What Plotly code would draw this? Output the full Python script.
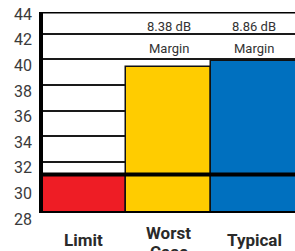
import plotly.graph_objects as go

categories = ["Limit", "Worst Case", "Typical"]
x_labels = [["Limit"], ["Worst", "Case"], ["Typical"]]
values = [31.0, 39.38, 39.86]
colors = ["#EE1D25", "#FFCC00", "#0070BF"]
y_ticks = [28, 30, 32, 34, 36, 38, 40, 42, 44]

limit = values[0]

# geometry (pixels)
W, H = 295, 251
M_T, M_B, M_L, M_R = 12, 32, 41, 0
PX_PER_UNIT = 12.8
LABEL_DROP = 6  # tick labels sit a few px below their gridline
paper_h = H - M_T - M_B
y_min = y_ticks[0]
y_top = y_min + (paper_h - LABEL_DROP) / PX_PER_UNIT
y2_top_frac = (y_ticks[-1] - y_min) * PX_PER_UNIT / paper_h

FONT_N = "Roboto, Liberation Sans, sans-serif"

fig = go.Figure()
fig.add_trace(go.Bar(
    x=categories, y=values,
    marker=dict(color=colors, line=dict(color="#111111", width=1.5)),
    width=1.0, hoverinfo="skip",
))
# invisible trace to carry the tick-label axis
fig.add_trace(go.Scatter(x=[0], y=[y_min], xaxis="x2", yaxis="y2", mode="markers",
                         marker=dict(opacity=0), hoverinfo="skip", showlegend=False))

# frame lines and the limit line across all columns
fig.add_shape(type="line", xref="x domain", yref="y", x0=0, x1=1, y0=limit, y1=limit,
              line=dict(color="#000000", width=4), layer="above")
fig.add_shape(type="line", xref="x domain", yref="y", x0=0, x1=1, y0=y_min, y1=y_min,
              line=dict(color="#000000", width=4), layer="above")
fig.add_shape(type="line", xref="x domain", yref="y", x0=0, x1=1, y0=y_top, y1=y_top,
              line=dict(color="#000000", width=3), layer="above")
fig.add_shape(type="line", xref="x domain", yref="y", x0=0, x1=0, y0=y_min, y1=y_top,
              line=dict(color="#000000", width=4), layer="above")

# margin annotations
for cat, v in zip(categories[1:], values[1:]):
    fig.add_annotation(x=cat, y=42, yref="y", xref="x", text=f"{v - limit:.2f} dB",
                       showarrow=False, yanchor="middle", yshift=7,
                       font=dict(family=FONT_N, size=13, color="#333333"))
    fig.add_annotation(x=cat, y=42, yref="y", xref="x", text="Margin",
                       showarrow=False, yanchor="middle", yshift=-15,
                       font=dict(family=FONT_N, size=13, color="#333333"))

# category labels
for cat, lines in zip(categories, x_labels):
    first = -14 if len(lines) > 1 else -21
    for i, ln in enumerate(lines):
        fig.add_annotation(x=cat, xref="x", y=0, yref="paper", text=f"<b>{ln}</b>",
                           showarrow=False, yanchor="middle", yshift=first - 19 * i,
                           font=dict(family=FONT_N, size=17, color="#2a2a2a"))

fig.update_layout(
    width=W, height=H,
    margin=dict(l=M_L, r=M_R, t=M_T, b=M_B),
    paper_bgcolor="white", plot_bgcolor="rgba(0,0,0,0)",
    bargap=0, showlegend=False,
    yaxis=dict(domain=[LABEL_DROP / paper_h, 1], range=[y_min, y_top],
               tickvals=y_ticks, showticklabels=False, ticks="",
               showline=False, showgrid=True, gridcolor="#1a1a1a", gridwidth=1.5,
               zeroline=False),
    xaxis=dict(range=[-0.5, 2.48], showticklabels=False, ticks="",
               showline=False, showgrid=False, zeroline=False),
    xaxis2=dict(domain=[0, 1], anchor="y2", range=[0, 1], visible=False),
    yaxis2=dict(domain=[0, y2_top_frac], range=[y_min, y_ticks[-1]], anchor="x2",
                side="left",
                tickvals=y_ticks, ticktext=[str(t) for t in y_ticks], ticks="",
                ticklabelstandoff=8,
                showline=False, showgrid=False, zeroline=False,
                tickfont=dict(family=FONT_N, size=16, color="#3a3a3a")),
)

fig.write_html("out.html", config={"displayModeBar": False},
               post_script="document.body.style.margin='0px';")
